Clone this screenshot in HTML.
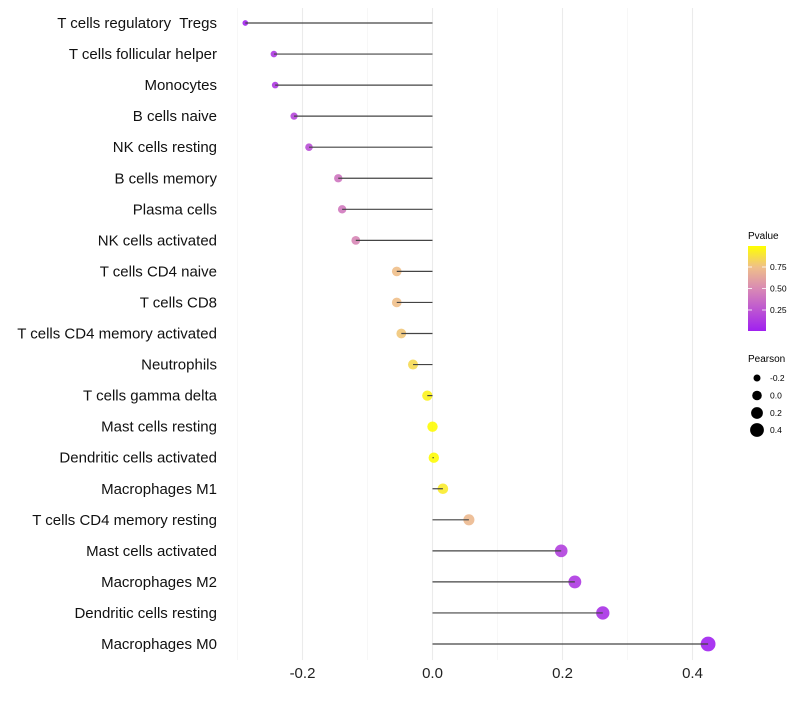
<!DOCTYPE html>
<html><head><meta charset="utf-8"><style>
body{margin:0;background:#fff;font-family:"Liberation Sans",sans-serif}
svg text{font-family:"Liberation Sans",sans-serif;white-space:pre}
</style></head><body>
<svg id="chart" width="800" height="700" xmlns="http://www.w3.org/2000/svg">
<defs><linearGradient id="pg" x1="0" y1="1" x2="0" y2="0">
<stop offset="0" stop-color="#a020f0"/><stop offset="0.5" stop-color="#d98ab4"/><stop offset="0.75" stop-color="#efbf8a"/><stop offset="1" stop-color="#ffff00"/></linearGradient></defs>
<g id="grid"></g>
<g id="marks"></g>
<g id="labels"></g>
<g id="xticks"></g>
<g>
<text x="748" y="239" font-size="10" fill="#000">Pvalue</text>
<rect x="748" y="246" width="18" height="85" fill="url(#pg)"/>
<g stroke="#fff" stroke-width="0.8"><line x1="748" x2="752" y1="267" y2="267"/><line x1="762" x2="766" y1="267" y2="267"/><line x1="748" x2="752" y1="288.5" y2="288.5"/><line x1="762" x2="766" y1="288.5" y2="288.5"/><line x1="748" x2="752" y1="310" y2="310"/><line x1="762" x2="766" y1="310" y2="310"/></g>
<text x="770" y="270" font-size="8.5">0.75</text><text x="770" y="291.5" font-size="8.5">0.50</text><text x="770" y="313" font-size="8.5">0.25</text>
</g>
<g>
<text x="748" y="362" font-size="10">Pearson</text>
<circle cx="757" cy="378" r="3.5"/><text x="770" y="381" font-size="8.5">-0.2</text>
<circle cx="757" cy="395.5" r="4.8"/><text x="770" y="398.5" font-size="8.5">0.0</text>
<circle cx="757" cy="413" r="5.9"/><text x="770" y="416" font-size="8.5">0.2</text>
<circle cx="757" cy="430" r="6.9"/><text x="770" y="433" font-size="8.5">0.4</text>
</g>
</svg>
<script>
const categories=["T cells regulatory  Tregs","T cells follicular helper","Monocytes","B cells naive","NK cells resting","B cells memory","Plasma cells","NK cells activated","T cells CD4 naive","T cells CD8","T cells CD4 memory activated","Neutrophils","T cells gamma delta","Mast cells resting","Dendritic cells activated","Macrophages M1","T cells CD4 memory resting","Mast cells activated","Macrophages M2","Dendritic cells resting","Macrophages M0"];
const pearson=[-0.288,-0.244,-0.242,-0.213,-0.19,-0.145,-0.139,-0.118,-0.055,-0.055,-0.048,-0.03,-0.008,0,0.002,0.016,0.056,0.198,0.219,0.262,0.424];
const pvalues=[0.02,0.12,0.12,0.18,0.22,0.4,0.42,0.48,0.75,0.75,0.78,0.85,0.95,0.99,0.99,0.92,0.72,0.15,0.12,0.08,0.01];
const xTicks=[-0.2,0,0.2,0.4];
const xTickLabels=["-0.2","0.0","0.2","0.4"];
const xMinor=[-0.3,-0.1,0.1,0.3];
const NS="http://www.w3.org/2000/svg";
const sx=v=>432.5+v*650;
const sy=i=>23+i*31.05;
const sr=v=>Math.sqrt(Math.max(4,27+66*v));
const stops=[[0,[160,32,240]],[0.5,[217,138,180]],[0.75,[239,191,138]],[1,[255,255,0]]];
function col(p){for(let k=1;k<stops.length;k++){if(p<=stops[k][0]){const a=stops[k-1],b=stops[k];const t=(p-a[0])/(b[0]-a[0]);return 'rgb('+a[1].map((c,j)=>Math.round(c+(b[1][j]-c)*t)).join(',')+')';}}return 'rgb(255,255,0)';}
function mk(t,at,parent){const e=document.createElementNS(NS,t);for(const k in at)e.setAttribute(k,at[k]);parent.appendChild(e);return e;}
const grid=document.getElementById('grid'),marks=document.getElementById('marks'),labels=document.getElementById('labels'),xt=document.getElementById('xticks');
xMinor.forEach(v=>{const l=mk('line',{x1:sx(v),x2:sx(v),y1:8,y2:660,stroke:'#f2f2f2','stroke-width':0.6},grid);

});
xTicks.forEach((v,i)=>{const l=mk('line',{x1:sx(v),x2:sx(v),y1:8,y2:660,stroke:'#ebebeb','stroke-width':1.1},grid);


const t=mk('text',{x:sx(v),y:678,'text-anchor':'middle','font-size':15,fill:'#222'},xt);t.textContent=xTickLabels[i];

});
categories.forEach((c,i)=>{const y=sy(i);
const t=mk('text',{x:217,y:y+5,'text-anchor':'end','font-size':15,fill:'#111'},labels);t.textContent=c;


const p=mk('circle',{cx:sx(pearson[i]),cy:y,r:sr(pearson[i]),fill:col(pvalues[i]),'fill-opacity':0.9},marks);


const s=mk('line',{x1:sx(0),x2:sx(pearson[i]),y1:y,y2:y,stroke:'#444','stroke-width':1.2},marks);

});
</script>
</body></html>
